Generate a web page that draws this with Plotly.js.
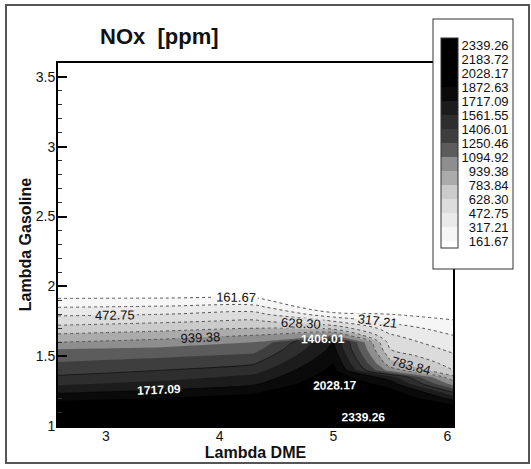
<!DOCTYPE html>
<html>
<head>
<meta charset="utf-8">
<script src="https://cdn.plot.ly/plotly-3.0.1.min.js"></script>
<style>
  html, body { margin: 0; padding: 0; background: #ffffff; }
  #chart { width: 531px; height: 469px; }
</style>
</head>
<body>
<div id="chart"></div>
<script>
// Lambda DME (x) grid columns
const lambdaDME = [2.58, 3.5, 4.3, 5.0, 5.5, 6.05];
// Lambda Gasoline (y) grid rows
const lambdaGasoline = [1.0, 1.1, 1.2, 1.3, 1.35, 1.4, 1.45, 1.5, 1.55, 1.6, 1.65, 1.7, 1.75, 1.8, 1.85, 1.9, 2.0, 3.6];

// NOx [ppm] values, one array per Lambda DME column (bottom -> top)
const noxAt258 = [2420, 2132, 1810, 1539, 1428, 1344, 1266, 1181, 1095, 939, 810, 680, 562, 447, 317, 188, 0, 0];
const noxAt350 = [2420, 2158, 1873, 1613, 1503, 1406, 1320, 1231, 1134, 1002, 862, 732, 602, 473, 343, 193, 0, 0];
const noxAt430 = [2420, 2184, 1950, 1698, 1600, 1495, 1387, 1289, 1192, 1095, 939, 784, 654, 525, 379, 200, 0, 0];
const noxAt500 = [2432, 2277, 2139, 2028, 1976, 1924, 1873, 1817, 1761, 1730, 1094, 732, 473, 214, 0, 0, 0, 0];
const noxAt550 = [2473, 2250, 2028, 1810, 1639, 1017, 836, 726, 628, 558, 487, 395, 291, 162, 60, 0, 0, 0];
const noxAt605 = [2495, 2106, 1665, 1043, 823, 628, 564, 499, 437, 377, 317, 246, 176, 105, 40, 0, 0, 0];

// Contour levels shown in the legend
const levelStart = 161.67;
const levelEnd = 2339.26;
const levelStep = 155.542;
const legendLabels = ['161.67', '317.21', '472.75', '628.30', '783.84', '939.38', '1094.92',
  '1250.46', '1406.01', '1561.55', '1717.09', '1872.63', '2028.17', '2183.72', '2339.26'];
const legendValues = legendLabels.map(Number);
// pad shorter labels with a figure space so the column looks right-aligned
const legendText = legendLabels.map(s => (s.length < 7 ? '\u2007' : '') + s);

// build z[row][col] (rows = Lambda Gasoline, cols = Lambda DME)
const columns = [noxAt258, noxAt350, noxAt430, noxAt500, noxAt550, noxAt605];
const z = lambdaGasoline.map((_, r) => columns.map(col => col[r]));

const FONT = 'Arial, "Liberation Sans", Helvetica, sans-serif';

// band colours: below first level ... above last level (16 bands)
const bandColors = ['#ffffff', '#f6f6f6', '#eaeaea', '#dcdcdc', '#cbcbcb', '#ababab', '#8e8e8e',
  '#5c5c5c', '#3e3e3e', '#2e2e2e', '#1c1c1c', '#0a0a0a', '#000000', '#000000', '#000000', '#000000'];
const colorscale = bandColors.map((c, i) => [i / (bandColors.length - 1), c]);

const fill = {
  type: 'contour',
  x: lambdaDME, y: lambdaGasoline, z: z,
  autocontour: false,
  contours: { start: levelStart, end: levelEnd, size: levelStep, coloring: 'fill', showlines: false },
  line: { width: 0, smoothing: 0 },
  colorscale: colorscale,
  hoverinfo: 'skip',
  colorbar: {
    x: 0.952, xanchor: 'left', xpad: 7,
    y: 1.121, yanchor: 'top', ypad: 19,
    len: 0.683, lenmode: 'fraction',
    thickness: 17, thicknessmode: 'pixels',
    outlinewidth: 1, outlinecolor: '#333',
    borderwidth: 1, bordercolor: '#333', bgcolor: '#ffffff',
    tickmode: 'array', tickvals: legendValues, ticktext: legendText,
    ticks: '', ticklabelpad: 5,
    tickfont: { family: FONT, size: 13, color: '#111' }
  }
};

const lowLines = {
  type: 'contour',
  x: lambdaDME, y: lambdaGasoline, z: z,
  autocontour: false,
  showscale: false,
  contours: { start: levelStart, end: 939.38, size: levelStep, coloring: 'none',
    showlabels: true, labelformat: '.2f',
    labelfont: { family: FONT, size: 13, color: '#111' } },
  line: { width: 1, color: '#555', dash: 'dot' },
  hoverinfo: 'skip'
};

const highLines = {
  type: 'contour',
  x: lambdaDME, y: lambdaGasoline, z: z,
  autocontour: false,
  showscale: false,
  contours: { start: 1406.006, end: levelEnd, size: 311.084, coloring: 'none',
    showlabels: true, labelformat: '.2f',
    labelfont: { family: FONT, size: 12, color: '#ffffff', weight: 700 } },
  line: { width: 0.5, color: '#000' },
  hoverinfo: 'skip'
};

const layout = {
  width: 531, height: 469,
  margin: { l: 58, r: 78, t: 63, b: 43 },
  paper_bgcolor: '#ffffff', plot_bgcolor: '#ffffff',
  font: { family: FONT, color: '#111' },
  showlegend: false,
  title: {
    text: 'NOx\u00a0 [ppm]',
    font: { family: FONT, size: 22, weight: 700, color: '#111' },
    x: 100 / 531, xanchor: 'left', xref: 'container',
    y: 1 - 36 / 469, yanchor: 'middle', yref: 'container'
  },
  xaxis: {
    range: [2.58, 6.05],
    tickmode: 'array', tickvals: [3, 4, 5, 6], ticktext: ['3', '4', '5', '6'],
    ticks: 'inside', ticklen: 6, tickwidth: 1, tickcolor: '#000',
    ticklabelstandoff: -4,
    showline: true, linewidth: 2, linecolor: '#000', mirror: true,
    showgrid: false, zeroline: false,
    tickfont: { family: FONT, size: 14, color: '#111' },
    title: { text: 'Lambda DME', font: { family: FONT, size: 16, weight: 700, color: '#111' }, standoff: 0 }
  },
  yaxis: {
    range: [1, 3.6],
    tickmode: 'array', tickvals: [1, 1.5, 2, 2.5, 3, 3.5], ticktext: ['1', '1.5', '2', '2.5', '3', '3.5'],
    ticks: 'inside', ticklen: 9, tickwidth: 2, tickcolor: '#000',
    ticklabelstandoff: -2,
    minor: { ticks: 'inside', ticklen: 4, tickwidth: 1, tickcolor: '#333', dtick: 0.1, tick0: 1 },
    showline: true, linewidth: 2, linecolor: '#000', mirror: true,
    showgrid: false, zeroline: false,
    tickfont: { family: FONT, size: 14, color: '#111' },
    title: { text: 'Lambda Gasoline', font: { family: FONT, size: 16, weight: 700, color: '#111' }, standoff: 0 }
  },
  shapes: [{
    type: 'rect', xref: 'paper', yref: 'paper',
    x0: (6 - 58) / 395, x1: (529 - 58) / 395,
    y0: (426 - 463) / 363, y1: (426 - 5) / 363,
    line: { color: '#555', width: 2 }, fillcolor: 'rgba(0,0,0,0)', layer: 'below'
  }]
};

Plotly.newPlot('chart', [fill, lowLines, highLines], layout, { displayModeBar: false, staticPlot: true });
</script>
</body>
</html>
